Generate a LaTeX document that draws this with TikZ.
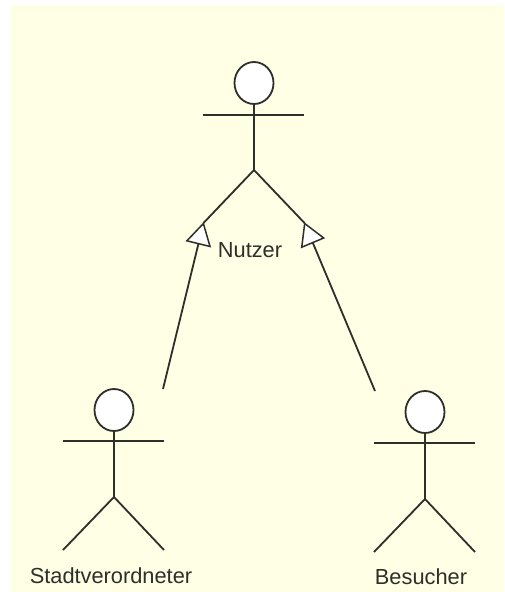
\documentclass[tikz,border=0pt]{standalone}
\usepackage{fontspec}
\setmainfont{Liberation Sans}
\usetikzlibrary{arrows.meta,shapes.geometric}
\definecolor{bgc}{HTML}{FFFFE6}
\definecolor{linec}{HTML}{2E2E2A}
\tikzset{
  limb/.style={draw=linec,line width=1.8pt},
  head/.style={ellipse,draw=linec,line width=1.8pt,fill=white,minimum width=39pt,minimum height=42pt,inner sep=0pt},
  lbl/.style={inner sep=0pt,text=linec,font=\fontsize{21.8}{24}\selectfont},
  gen/.style={limb,-{Triangle[open,fill=white,length=23pt,width=26pt,line width=1.5pt]},shorten >=-1pt}
}
\begin{document}
\begin{tikzpicture}[x=1pt,y=-1pt]
\useasboundingbox (0,0) rectangle (504,592);
\fill[bgc] (10,5) rectangle (504,592);
% top actor
\node[head] (hN) at (254,83) {};
\coordinate (aNl) at (203,115);\coordinate (aNr) at (304,115);
\coordinate (pN) at (254,170);
\coordinate (fNl) at (203.5,223);\coordinate (fNr) at (304.5,223);
\draw[limb] (aNl)--(aNr);
\draw[limb] (hN.south)--(pN);
\draw[limb] (fNl)--(pN)--(fNr);
\node[lbl] (tN) at (250,250) {Nutzer};
% left actor
\node[head] (hS) at (114,410) {};
\coordinate (aSl) at (63,441);\coordinate (aSr) at (164,441);
\coordinate (pS) at (114,497);
\coordinate (fSl) at (63,550);\coordinate (fSr) at (164,550);
\draw[limb] (aSl)--(aSr);
\draw[limb] (hS.south)--(pS);
\draw[limb] (fSl)--(pS)--(fSr);
\node[lbl] (tS) at (111,575.5) {Stadtverordneter};
% right actor
\node[head] (hB) at (425,412) {};
\coordinate (aBl) at (374,443);\coordinate (aBr) at (475,443);
\coordinate (pB) at (425,499);
\coordinate (fBl) at (374,552);\coordinate (fBr) at (475,552);
\draw[limb] (aBl)--(aBr);
\draw[limb] (hB.south)--(pB);
\draw[limb] (fBl)--(pB)--(fBr);
\node[lbl] (tB) at (421,577) {Besucher};
% generalisations
\coordinate (gS) at (163,389);
\coordinate (gB) at (375,391);
\draw[gen] (gS)--(fNl);
\draw[gen] (gB)--(fNr);
\end{tikzpicture}
\end{document}
